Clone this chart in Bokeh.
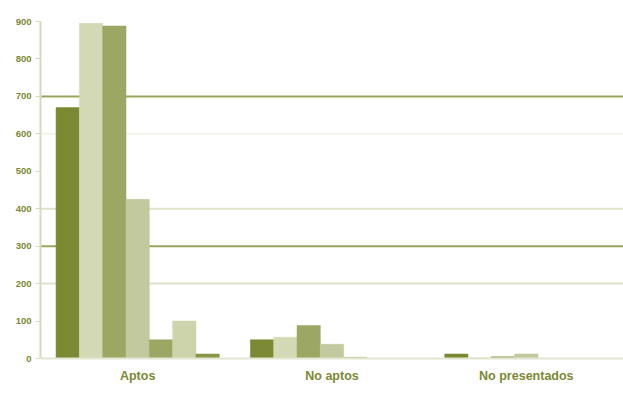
from bokeh.plotting import figure
from bokeh.models import FactorRange, Range1d, ColumnDataSource, Legend, LegendItem, Span, FixedTicker
from bokeh.transform import dodge
from bokeh.embed import file_html
from bokeh.resources import INLINE

categories = ["Aptos", "No aptos", "No presentados"]
series = ["A", "B", "C", "D", "E", "EA", "DC"]
values = {
    "A":  [670, 50, 12],
    "B":  [895, 57, 2],
    "C":  [888, 88, 5],
    "D":  [425, 38, 12],
    "E":  [50, 3, 0],
    "EA": [100, 0, 0],
    "DC": [12, 0, 0],
}
colors = ["#7b8933", "#d3d9b4", "#9ca764", "#c2c99f", "#9ca764", "#cdd4ab", "#8a9548"]
y_ticks = [0, 100, 200, 300, 400, 500, 600, 700, 800, 900]

olive = "#7b8933"
font = "Liberation Sans"

p = figure(frame_width=583, frame_height=337, x_range=FactorRange(factors=categories, range_padding=0),
           y_range=Range1d(0, 900), output_backend="svg", toolbar_location=None,
           min_border_left=40, min_border_right=0, min_border_top=21, min_border_bottom=0)
p.outline_line_color = None
p.xgrid.grid_line_color = None
p.ygrid.grid_line_color = None

# gridlines
for yv, col in [(200, "#dfe3c9"), (300, "#9aa55c"), (400, "#dfe3c9"), (600, "#f2f4e8"), (700, "#9aa55c")]:
    p.add_layout(Span(location=yv, dimension="width", line_color=col, line_width=2, level="underlay"))

src = ColumnDataSource(dict(cat=categories, **values))
w = 0.12
items = []
for i, s in enumerate(series):
    r = p.vbar(x=dodge("cat", (i - 3) * w, range=p.x_range), top=s, width=w, source=src,
               fill_color=colors[i], line_color=colors[i], line_width=0.5)
    items.append(LegendItem(label=s, renderers=[r]))

p.yaxis.ticker = FixedTicker(ticks=y_ticks)
p.yaxis.axis_line_color = "#d6dbbd"
p.yaxis.axis_line_width = 2
p.yaxis.major_tick_line_color = "#d6dbbd"
p.yaxis.major_tick_out = 5
p.yaxis.major_tick_in = 0
p.yaxis.minor_tick_line_color = None
p.yaxis.major_label_text_color = olive
p.yaxis.major_label_text_font = font
p.yaxis.major_label_text_font_style = "bold"
p.yaxis.major_label_text_font_size = "9.5px"
p.yaxis.major_label_standoff = 4

p.xaxis.axis_line_color = "#e3e6d0"
p.xaxis.axis_line_width = 2
p.xaxis.major_tick_line_color = None
p.xaxis.major_label_text_color = olive
p.xaxis.major_label_text_font = font
p.xaxis.major_label_text_font_style = "bold"
p.xaxis.major_label_text_font_size = "12.5px"
p.xaxis.major_label_standoff = 4

legend = Legend(items=items, orientation="horizontal", location="center",
                glyph_width=8, glyph_height=7, label_standoff=2, spacing=20,
                label_text_font=font, label_text_font_size="7.5px", label_text_font_style="bold",
                label_text_color=olive, border_line_color=None, background_fill_alpha=0,
                padding=1, margin=0)
p.add_layout(legend, "below")

open("out.html", "w").write(file_html(p, INLINE))
